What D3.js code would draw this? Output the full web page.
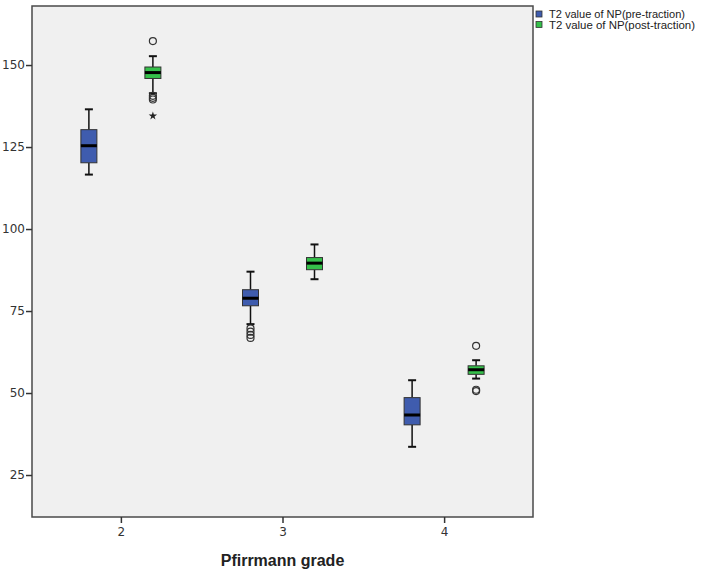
<!DOCTYPE html>
<html>
<head>
<meta charset="utf-8">
<script src="https://cdn.jsdelivr.net/npm/d3@7"></script>
<style>
  html, body { margin: 0; padding: 0; background: #ffffff; }
  svg { display: block; }
</style>
</head>
<body>
<div id="chart"></div>
<script>
// ---- data ----
const grades = ["2", "3", "4"];
const seriesNames = ["T2 value of NP(pre-traction)", "T2 value of NP(post-traction)"];
const seriesColors = ["#3f5cae", "#35c04a"];

const preMin = [116.6, 71.0, 33.6];
const preQ1 = [120.2, 76.6, 40.3];
const preMedian = [125.4, 78.9, 43.3];
const preQ3 = [130.3, 81.5, 48.6];
const preMax = [136.5, 87.0, 53.9];
const preOutliers = [[], [69.7, 68.7, 67.7, 66.8], []];
const preExtremes = [[], [], []];

const postMin = [141.4, 84.7, 54.4];
const postQ1 = [145.9, 87.6, 55.7];
const postMedian = [147.7, 89.6, 57.1];
const postQ3 = [149.4, 91.3, 58.3];
const postMax = [152.7, 95.3, 60.0];
const postOutliers = [[157.3, 140.6, 140.0, 139.5], [], [64.4, 51.0, 50.6]];
const postExtremes = [[134.5], [], []];

const yTicks = [25, 50, 75, 100, 125, 150];
const xTitle = "Pfirrmann grade";

// ---- build records ----
const series = [
  {name: seriesNames[0], color: seriesColors[0], min: preMin, q1: preQ1, med: preMedian, q3: preQ3, max: preMax, out: preOutliers, ext: preExtremes},
  {name: seriesNames[1], color: seriesColors[1], min: postMin, q1: postQ1, med: postMedian, q3: postQ3, max: postMax, out: postOutliers, ext: postExtremes}
];
const boxes = [];
series.forEach((s, si) => {
  grades.forEach((g, gi) => {
    boxes.push({series: s.name, si, color: s.color, grade: g,
      min: s.min[gi], q1: s.q1[gi], med: s.med[gi], q3: s.q3[gi], max: s.max[gi],
      out: s.out[gi], ext: s.ext[gi]});
  });
});

// ---- layout ----
const W = 704, H = 574;
const plot = {left: 32, right: 533, top: 6, bottom: 517};

const svg = d3.select("#chart").append("svg").attr("width", W).attr("height", H)
  .style("font-family", "'Liberation Sans', Arial, sans-serif");

const x = d3.scalePoint().domain(grades).range([plot.left, plot.right]).padding(0.55);
const xSub = d3.scalePoint().domain(seriesNames).range([-32, 32]);
const y = d3.scaleLinear().domain([12.2, 168]).range([plot.bottom, plot.top]);

// plot background
svg.append("rect")
  .attr("x", plot.left).attr("y", plot.top)
  .attr("width", plot.right - plot.left).attr("height", plot.bottom - plot.top)
  .attr("fill", "#f0f0f0").attr("stroke", "#4a4a4a").attr("stroke-width", 1.5);

// axes
const yAxis = d3.axisLeft(y).tickValues(yTicks).tickSize(6).tickPadding(1);
const gy = svg.append("g").attr("transform", `translate(${plot.left},0)`).call(yAxis);
gy.select(".domain").remove();
gy.selectAll(".tick line").attr("stroke", "#333").attr("stroke-width", 1.5);
gy.selectAll(".tick text").attr("fill", "#333")
  .style("font-family", "'DejaVu Sans', sans-serif").style("font-size", "12px");

const xAxis = d3.axisBottom(x).tickSize(6).tickPadding(4);
const gx = svg.append("g").attr("transform", `translate(0,${plot.bottom})`).call(xAxis);
gx.select(".domain").remove();
gx.selectAll(".tick line").attr("stroke", "#333").attr("stroke-width", 1.5);
gx.selectAll(".tick text").attr("fill", "#333")
  .style("font-family", "'DejaVu Sans', sans-serif").style("font-size", "12px");

svg.append("text")
  .attr("x", (plot.left + plot.right) / 2).attr("y", 566)
  .attr("text-anchor", "middle")
  .style("font-size", "16px").style("font-weight", "bold").attr("fill", "#222")
  .text(xTitle);

// boxes
const boxW = 16, capW = 8;
const g = svg.append("g");
const bx = d => x(d.grade) + xSub(d.series);

const bg = g.selectAll("g.box").data(boxes).join("g").attr("class", "box");

// whiskers
bg.append("line")
  .attr("x1", bx).attr("x2", bx)
  .attr("y1", d => y(d.max)).attr("y2", d => y(d.q3))
  .attr("stroke", "#111").attr("stroke-width", 1.5);
bg.append("line")
  .attr("x1", bx).attr("x2", bx)
  .attr("y1", d => y(d.q1)).attr("y2", d => y(d.min))
  .attr("stroke", "#111").attr("stroke-width", 1.5);
// caps
bg.append("line")
  .attr("x1", d => bx(d) - capW / 2).attr("x2", d => bx(d) + capW / 2)
  .attr("y1", d => y(d.max)).attr("y2", d => y(d.max))
  .attr("stroke", "#111").attr("stroke-width", 2);
bg.append("line")
  .attr("x1", d => bx(d) - capW / 2).attr("x2", d => bx(d) + capW / 2)
  .attr("y1", d => y(d.min)).attr("y2", d => y(d.min))
  .attr("stroke", "#111").attr("stroke-width", 2);
// box
bg.append("rect")
  .attr("x", d => bx(d) - boxW / 2).attr("width", boxW)
  .attr("y", d => y(d.q3)).attr("height", d => y(d.q1) - y(d.q3))
  .attr("fill", d => d.color).attr("stroke", "#333").attr("stroke-width", 1);
// median
bg.append("line")
  .attr("x1", d => bx(d) - boxW / 2).attr("x2", d => bx(d) + boxW / 2)
  .attr("y1", d => y(d.med)).attr("y2", d => y(d.med))
  .attr("stroke", "#000").attr("stroke-width", 3);

// outliers
bg.each(function(d) {
  const sel = d3.select(this);
  sel.selectAll("circle.out").data(d.out).join("circle").attr("class", "out")
    .attr("cx", bx(d)).attr("cy", v => y(v)).attr("r", 3.5)
    .attr("fill", "none").attr("stroke", "#333").attr("stroke-width", 1.2);
  sel.selectAll("path.ext").data(d.ext).join("path").attr("class", "ext")
    .attr("transform", v => `translate(${bx(d)},${y(v)})`)
    .attr("d", d3.symbol(d3.symbolStar).size(22))
    .attr("fill", "#222");
});

// legend
const lg = svg.append("g").attr("transform", "translate(536,11)");
seriesNames.forEach((name, i) => {
  lg.append("rect").attr("x", 0).attr("y", i * 10.5).attr("width", 6).attr("height", 6)
    .attr("fill", seriesColors[i]).attr("stroke", "#333").attr("stroke-width", 0.8);
  lg.append("text").attr("x", 13).attr("y", i * 10.5 + 7)
    .style("font-size", "10px").attr("fill", "#222")
    .attr("textLength", i === 0 ? 136 : 146).attr("lengthAdjust", "spacingAndGlyphs")
    .text(name);
});
</script>
</body>
</html>
